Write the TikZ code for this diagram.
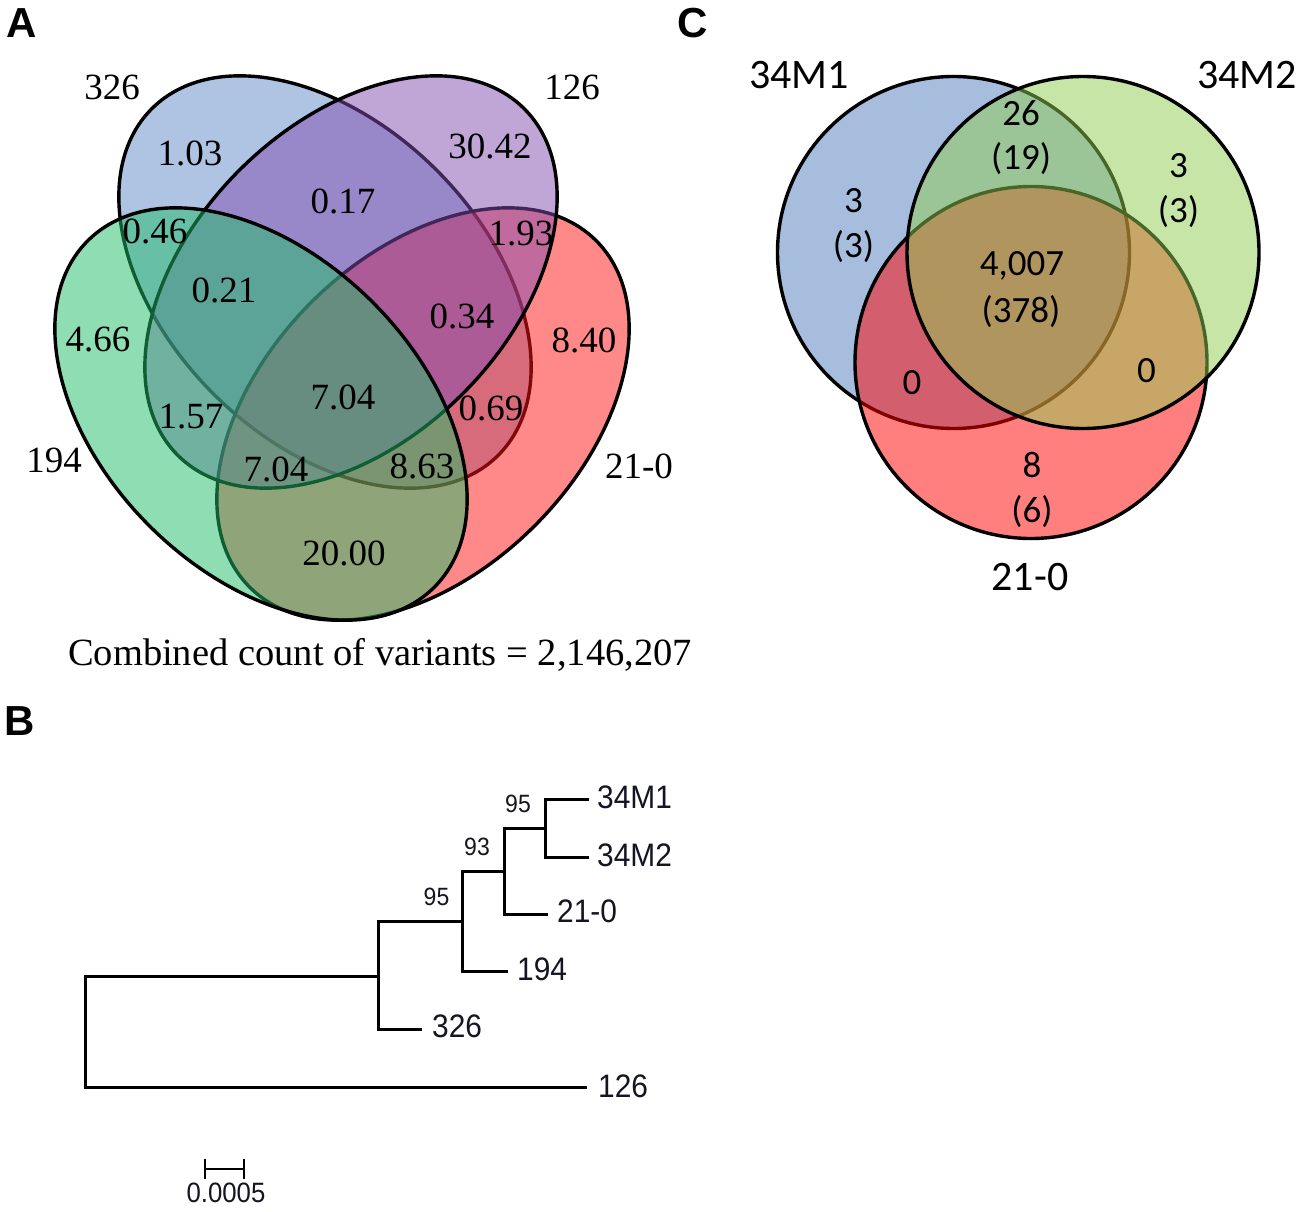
\documentclass[tikz,border=0pt]{standalone}
\usepackage{fontspec}
\setmainfont{Liberation Serif}
\newfontfamily\calfont{Carlito}
\newfontfamily\arialfont{Liberation Sans}
\newfontfamily\treefont[FakeStretch=0.92]{Liberation Sans}
\definecolor{vblue}{RGB}{97,137,201}
\definecolor{vpurple}{RGB}{131,77,177}
\definecolor{vgreen}{RGB}{33,191,105}
\definecolor{vred}{RGB}{255,21,21}
\definecolor{cblue}{RGB}{81,125,189}
\definecolor{cgreen}{RGB}{145,205,81}
\definecolor{cred}{RGB}{255,1,1}
\definecolor{treeink}{RGB}{20,20,35}
\begin{document}
\begin{tikzpicture}[x=1pt,y=-1pt,
  venn/.style={draw=black, line width=3.4pt, fill opacity=0.5},
  anum/.style={font=\fontsize{37}{44}\selectfont, inner sep=0pt},
  cnum/.style={font=\calfont\fontsize{37}{44}\selectfont, inner sep=0pt},
  clab/.style={font=\calfont\fontsize{42}{50}\selectfont, inner sep=0pt},
  panel/.style={font=\arialfont\bfseries\fontsize{42}{50}\selectfont, inner sep=0pt},
  tlab/.style={font=\treefont\fontsize{32.5}{38}\selectfont, inner sep=0pt, anchor=west, text=treeink},
  boot/.style={font=\treefont\fontsize{25}{30}\selectfont, inner sep=0pt, text=treeink},
  sclab/.style={font=\treefont\fontsize{28}{34}\selectfont, inner sep=0pt, text=treeink},
  tree/.style={draw=black, line width=3pt, line cap=rect}]
\useasboundingbox (0,0) rectangle (1306,1212);
\fill[white] (0,0) rectangle (1306,1212);

% ---------- Panel A ----------
\draw[venn, fill=vblue, rotate around={-45:(325,282)}] (325,282) ellipse [x radius=245pt, y radius=158pt];
\draw[venn, fill=vred, rotate around={45:(423,414)}] (423,414) ellipse [x radius=245pt, y radius=158pt];
\draw[venn, fill=vpurple, rotate around={45:(351,282)}] (351,282) ellipse [x radius=245pt, y radius=158pt];
\draw[venn, fill=vgreen, rotate around={-45:(261,414)}] (261,414) ellipse [x radius=245pt, y radius=158pt];

\node[panel] (pA) at (22,23) {A};
\node[anum] (l326) at (112,87) {326};
\node[anum] (l126) at (572,87) {126};
\node[anum] (l194) at (54,460) {194};
\node[anum] (l210) at (639,466) {21-0};
\node[anum] (r1) at (190,153) {1.03};
\node[anum] (r2) at (490,146) {30.42};
\node[anum] (r3) at (343,201) {0.17};
\node[anum] (r4) at (155,231) {0.46};
\node[anum] (r5) at (521,234) {1.93};
\node[anum] (r6) at (224,290) {0.21};
\node[anum] (r7) at (462,316) {0.34};
\node[anum] (r8) at (98,340) {4.66};
\node[anum] (r9) at (584,340) {8.40};
\node[anum] (r10) at (343,397) {7.04};
\node[anum] (r11) at (191,417) {1.57};
\node[anum] (r12) at (491,408) {0.69};
\node[anum] (r13) at (276,469) {7.04};
\node[anum] (r14) at (422,466) {8.63};
\node[anum] (r15) at (344,553) {20.00};
\node[anum, font=\fontsize{38.5}{46}\selectfont] (tot) at (380,655) {Combined count of variants = 2,146,207};

% ---------- Panel C ----------
\draw[venn, fill=cblue] (953.5,252.5) circle [radius=176pt];
\draw[venn, fill=cred] (1031,362.5) circle [radius=176pt];
\draw[venn, fill=cgreen] (1083,252.5) circle [radius=176pt];

\node[panel] (pC) at (693,23) {C};
\node[clab] (c1) at (799,75) {34M1};
\node[clab] (c2) at (1247,75) {34M2};
\node[clab] (c3) at (1030,577) {21-0};
\node[cnum] (d1) at (1021,113) {26};
\node[cnum] (d2) at (1021,159) {(19)};
\node[cnum] (d3) at (853.5,201) {3};
\node[cnum] (d4) at (853.5,247) {(3)};
\node[cnum] (d5) at (1178.5,166) {3};
\node[cnum] (d6) at (1178.5,212) {(3)};
\node[cnum] (d7) at (1022,266) {4,007};
\node[cnum] (d8) at (1021,312) {(378)};
\node[cnum] (d9) at (912,383) {0};
\node[cnum] (d10) at (1146.5,371) {0};
\node[cnum] (d11) at (1032,465) {8};
\node[cnum] (d12) at (1032,512) {(6)};

% ---------- Panel B ----------
\node[panel] (pB) at (20,721) {B};
\coordinate (t1) at (587,799);
\coordinate (t2) at (587,857);
\coordinate (t3) at (546.5,914);
\coordinate (t4) at (506.5,971.5);
\coordinate (t5) at (420.5,1029);
\coordinate (t6) at (585,1087.5);
\coordinate (n1) at (545,828);
\coordinate (n2) at (504,871.5);
\coordinate (n3) at (462.5,921.5);
\coordinate (n4) at (378.6,976.5);
\coordinate (rt) at (85,1032);
\draw[tree] (n1) |- (t1);
\draw[tree] (n1) |- (t2);
\draw[tree] (n2) |- (n1);
\draw[tree] (n2) |- (t3);
\draw[tree] (n3) |- (n2);
\draw[tree] (n3) |- (t4);
\draw[tree] (n4) |- (n3);
\draw[tree] (n4) |- (t5);
\draw[tree] (rt) |- (n4);
\draw[tree] (rt) |- (t6);

\node[tlab] (k1) at (597,797) {34M1};
\node[tlab] (k2) at (597,855) {34M2};
\node[tlab] (k3) at (557,911.5) {21-0};
\node[tlab] (k4) at (517,969.5) {194};
\node[tlab] (k5) at (432,1026.5) {326};
\node[tlab] (k6) at (598,1086) {126};
\node[boot] (b1) at (518,804) {95};
\node[boot] (b2) at (477,847) {93};
\node[boot] (b3) at (436.5,897) {95};

\coordinate (s1) at (205,1169);
\coordinate (s2) at (244,1169);
\coordinate (s1a) at (205,1159);
\coordinate (s1b) at (205,1179);
\coordinate (s2a) at (244,1159);
\coordinate (s2b) at (244,1179);
\draw[draw=black, line width=2.5pt] (s1) -- (s2);
\draw[draw=black, line width=2.5pt] (s1a) -- (s1b);
\draw[draw=black, line width=2.5pt] (s2a) -- (s2b);
\node[sclab] (sl) at (226,1193) {0.0005};
\end{tikzpicture}
\end{document}
